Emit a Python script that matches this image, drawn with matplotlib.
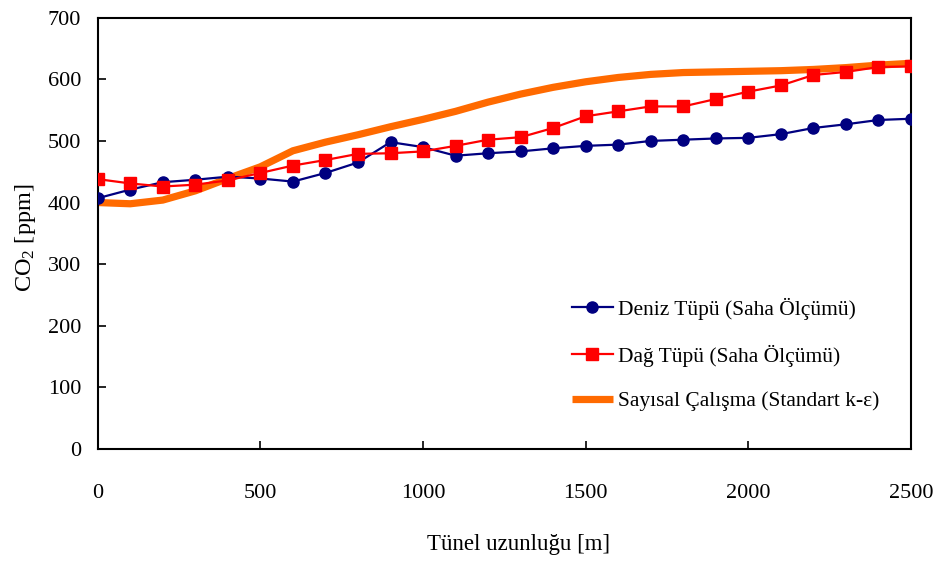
import numpy as np
import matplotlib
matplotlib.use("Agg")
import matplotlib.pyplot as plt

plt.rcParams['font.family'] = ['Liberation Serif', 'DejaVu Serif']
plt.rcParams['mathtext.fontset'] = 'custom'
plt.rcParams['mathtext.rm'] = 'Liberation Serif'
plt.rcParams['mathtext.default'] = 'regular'

# tunnel length [m]
distance = np.arange(0, 2501, 100)

# measured CO2 along the sea-side tube [ppm]
deniz = [407, 421, 433, 437, 442, 439, 434, 448, 465, 498,
         490, 476, 480, 483, 488, 492, 494, 500, 502, 504,
         505, 511, 521, 527, 534, 536]

# measured CO2 along the mountain-side tube [ppm]
dag = [438, 431, 426, 429, 436, 448, 460, 469, 479, 480,
       483, 492, 502, 506, 521, 540, 548, 556, 556, 568,
       580, 590, 607, 612, 620, 621]

# numerical result, standard k-epsilon model [ppm]
sayisal = [400, 398, 404, 419, 439, 458, 484, 498, 510, 523,
           535, 548, 563, 576, 587, 596, 603, 608, 611, 612,
           613, 614, 616, 619, 623, 626]

fig = plt.figure(figsize=(9.36, 5.62), dpi=100)
ax = fig.add_axes([0.1044, 0.2011, 0.8689, 0.7674])

l3, = ax.plot(distance, sayisal, color='#FF6A00', lw=5.2,
              solid_capstyle='butt', solid_joinstyle='round', zorder=2,
              label='Sayısal Çalışma (Standart k-ε)')
l1, = ax.plot(distance, deniz, color='#000080', lw=1.6, marker='o',
              ms=8, zorder=3, label='Deniz Tüpü (Saha Ölçümü)')
l2, = ax.plot(distance, dag, color='#FF0000', lw=1.6, marker='s',
              ms=9, zorder=4, label='Dağ Tüpü (Saha Ölçümü)')

ax.set_xlim(0, 2500)
ax.set_ylim(0, 700)
ax.set_xticks(np.arange(0, 2501, 500))
ax.set_yticks(np.arange(0, 701, 100))
ax.tick_params(axis='both', direction='in', length=6, width=1.2,
               labelsize=16, colors='black')
ax.tick_params(axis='x', pad=25)
ax.tick_params(axis='y', pad=12)
for s in ax.spines.values():
    s.set_linewidth(1.5)

ax.set_xlabel('Tünel uzunluğu [m]', fontsize=16.5)
ax.xaxis.set_label_coords(0.517, -0.197)
ax.set_ylabel('CO$_2$ [ppm]', fontsize=17.5)
ax.yaxis.set_label_coords(-0.073, 0.49)

ax.legend(handles=[l1, l2, l3], loc='lower right', frameon=False,
          fontsize=15.5, handlelength=1.9, handletextpad=0.25,
          labelspacing=1.15, bbox_to_anchor=(0.985, 0.042))

fig.savefig('out.png', dpi=100)
